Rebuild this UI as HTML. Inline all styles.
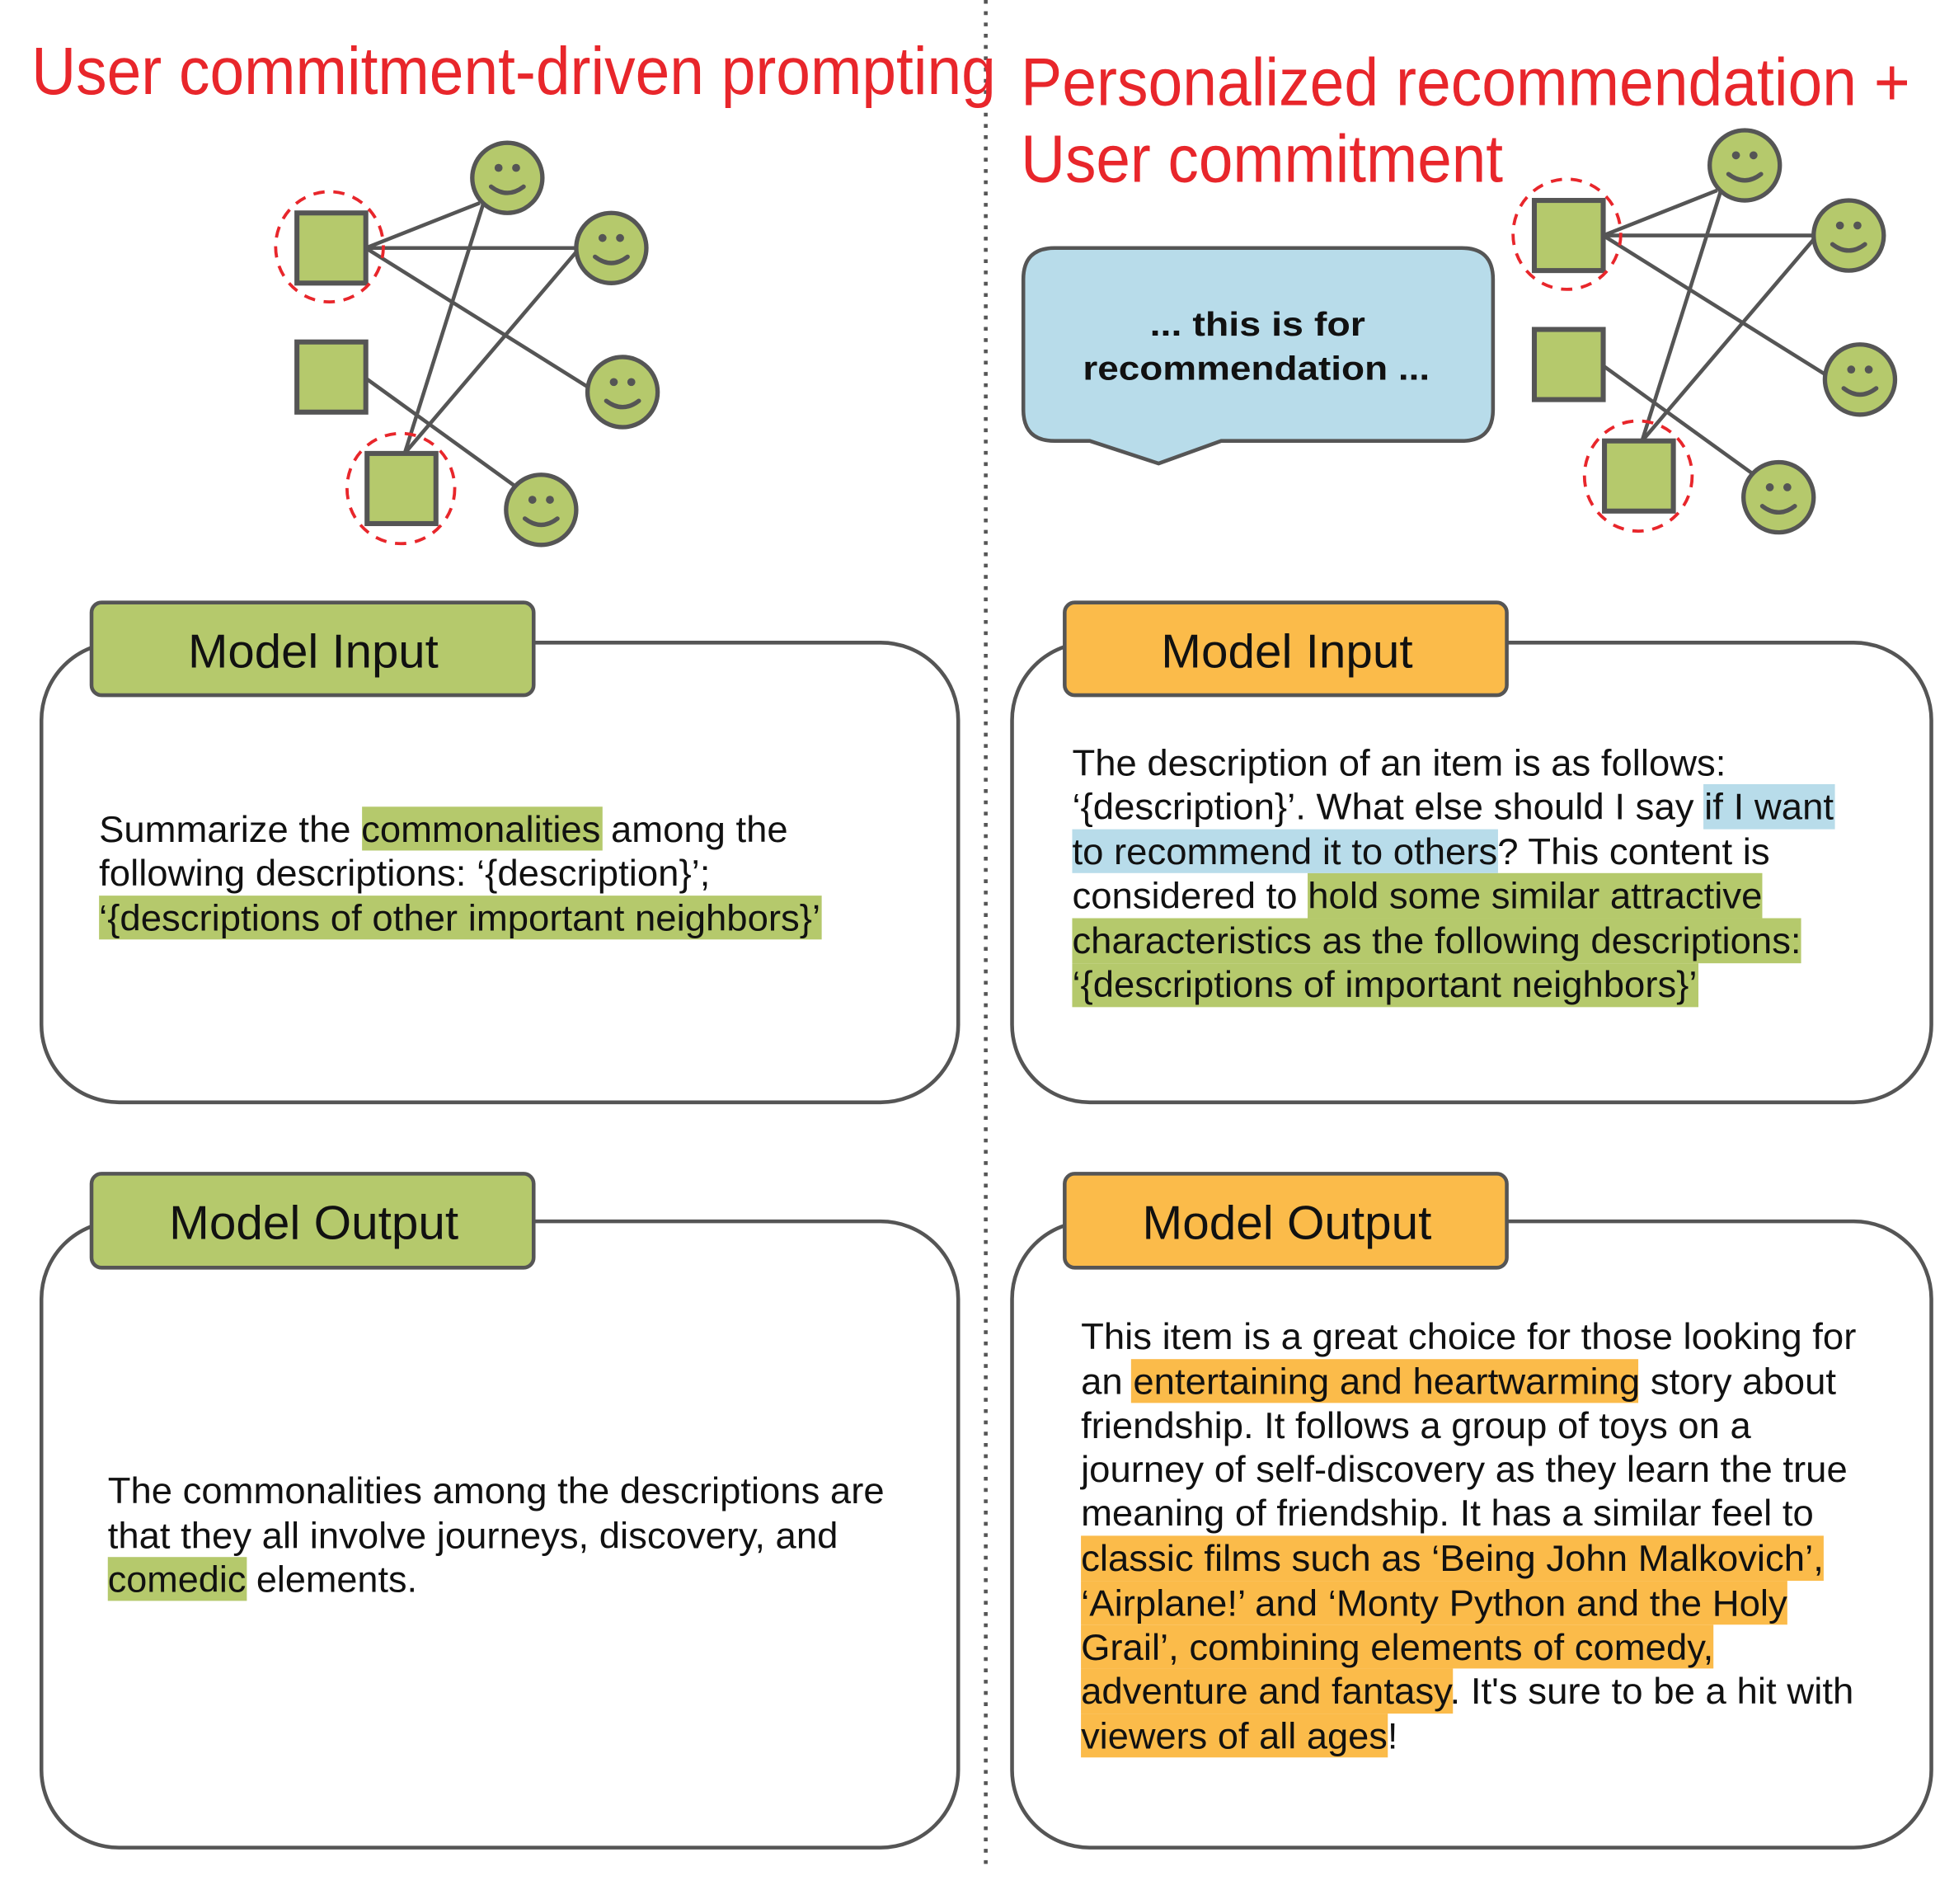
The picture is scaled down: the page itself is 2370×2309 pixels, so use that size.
<!DOCTYPE html>
<html><head><meta charset="utf-8"><style>
html,body{margin:0;padding:0;background:#fff;}
svg{display:block;}
text{font-family:"Liberation Sans",Arial,sans-serif;}
.t{font-size:29px;fill:#111;}
.ti{font-size:54px;fill:#e8262b;}
.tab{font-size:38px;fill:#111;}
</style></head><body>
<svg width="2370" height="2309" viewBox="0 0 1560 1520" xmlns="http://www.w3.org/2000/svg">
<defs>
<g id="smile">
<circle r="28" fill="#b5c96c" stroke="#555" stroke-width="3.5"/>
<circle cx="-7" cy="-8" r="3.2" fill="#555"/><circle cx="7" cy="-8" r="3.2" fill="#555"/>
<path d="M-13 7 Q0 17 13 7" fill="none" stroke="#555" stroke-width="3.5" stroke-linecap="round"/>
</g>
<g id="graph">
<g stroke="#555" stroke-width="3" fill="none">
<line x1="292" y1="198" x2="383" y2="162"/>
<line x1="292" y1="198" x2="460" y2="198"/>
<line x1="292" y1="198" x2="471" y2="310"/>
<line x1="292" y1="302" x2="411" y2="388"/>
<line x1="323" y1="362" x2="386" y2="162"/>
<line x1="323" y1="362" x2="461" y2="200"/>
</g>
<rect x="237" y="170" width="55" height="56" fill="#b5c96c" stroke="#555" stroke-width="4"/>
<rect x="237" y="273" width="55" height="56" fill="#b5c96c" stroke="#555" stroke-width="4"/>
<rect x="293" y="362" width="55" height="56" fill="#b5c96c" stroke="#555" stroke-width="4"/>
<ellipse cx="263" cy="197" rx="43" ry="44" fill="none" stroke="#e8262b" stroke-width="2.5" stroke-dasharray="9 7"/>
<ellipse cx="320" cy="390" rx="43" ry="44" fill="none" stroke="#e8262b" stroke-width="2.5" stroke-dasharray="9 7"/>
<use href="#smile" x="405" y="142"/>
<use href="#smile" x="488" y="198"/>
<use href="#smile" x="497" y="313"/>
<use href="#smile" x="432" y="407"/>
</g>
</defs>

<line x1="787" y1="0" x2="787" y2="1488" stroke="#555" stroke-width="3" stroke-dasharray="3 6"/>

<text class="ti" x="25" y="75" textLength="770" lengthAdjust="spacingAndGlyphs">User commitment-driven prompting</text>
<text class="ti" x="815" y="84" textLength="710" lengthAdjust="spacingAndGlyphs">Personalized recommendation +</text>
<text class="ti" x="815" y="145" textLength="385" lengthAdjust="spacingAndGlyphs">User commitment</text>

<use href="#graph"/>
<use href="#graph" x="988" y="-10"/>

<path d="M842 198 H1167 Q1192 198 1192 223 V327 Q1192 352 1167 352 H975 L925 370 L870 352 H842 Q817 352 817 327 V223 Q817 198 842 198 Z" fill="#b8dcea" stroke="#555" stroke-width="3"/>
<text x="1004" y="268" text-anchor="middle" style="font-size:27px;font-weight:bold" fill="#111" textLength="172" lengthAdjust="spacingAndGlyphs">... this is for</text>
<text x="1003" y="303" text-anchor="middle" style="font-size:27px;font-weight:bold" fill="#111" textLength="277" lengthAdjust="spacingAndGlyphs">recommendation ...</text>

<g fill="#fff" stroke="#555" stroke-width="3">
<rect x="33" y="513" width="732" height="367" rx="62"/>
<rect x="33" y="975" width="732" height="500" rx="62"/>
<rect x="808" y="513" width="734" height="367" rx="62"/>
<rect x="808" y="975" width="734" height="500" rx="62"/>
</g>
<g stroke="#555" stroke-width="3">
<rect x="73" y="481" width="353" height="74" rx="8" fill="#b5c96c"/>
<rect x="73" y="937" width="353" height="75" rx="8" fill="#b5c96c"/>
<rect x="850" y="481" width="353" height="74" rx="8" fill="#fbbb4a"/>
<rect x="850" y="937" width="353" height="75" rx="8" fill="#fbbb4a"/>
</g>
<text class="tab" x="150" y="533" textLength="200" lengthAdjust="spacingAndGlyphs">Model Input</text>
<text class="tab" x="135" y="989" textLength="231" lengthAdjust="spacingAndGlyphs">Model Output</text>
<text class="tab" x="927" y="533" textLength="201" lengthAdjust="spacingAndGlyphs">Model Input</text>
<text class="tab" x="912" y="989" textLength="231" lengthAdjust="spacingAndGlyphs">Model Output</text>

<g fill="#b5c96c">
<rect x="289" y="644" width="192" height="35"/>
<rect x="79" y="715" width="577" height="35"/>
<rect x="86" y="1243" width="111" height="35"/>
<rect x="1044" y="697" width="363" height="36"/>
<rect x="856" y="733" width="582" height="36"/>
<rect x="856" y="769" width="500" height="35"/>
</g>
<g fill="#b8dcea">
<rect x="1360" y="626" width="105" height="36"/>
<rect x="856" y="662" width="340" height="35"/>
</g>
<g fill="#fbbb4a">
<rect x="903" y="1085" width="405" height="35"/>
<rect x="863" y="1226" width="593" height="36"/>
<rect x="863" y="1262" width="564" height="35"/>
<rect x="863" y="1297" width="505" height="35"/>
<rect x="863" y="1332" width="297" height="36"/>
<rect x="863" y="1368" width="245" height="35"/>
</g>

<text class="t" x="79" y="672" textLength="550" lengthAdjust="spacingAndGlyphs">Summarize the commonalities among the</text>
<text class="t" x="79" y="707" textLength="488" lengthAdjust="spacingAndGlyphs">following descriptions: ‘{description}’;</text>
<text class="t" x="79" y="743" textLength="576" lengthAdjust="spacingAndGlyphs">‘{descriptions of other important neighbors}’</text>

<text class="t" x="86" y="1200" textLength="620" lengthAdjust="spacingAndGlyphs">The commonalities among the descriptions are</text>
<text class="t" x="86" y="1236" textLength="583" lengthAdjust="spacingAndGlyphs">that they all involve journeys, discovery, and</text>
<text class="t" x="86" y="1271" textLength="247" lengthAdjust="spacingAndGlyphs">comedic elements.</text>

<text class="t" x="856" y="619" textLength="522" lengthAdjust="spacingAndGlyphs">The description of an item is as follows:</text>
<text class="t" x="856" y="654" textLength="608" lengthAdjust="spacingAndGlyphs">‘{description}’. What else should I say if I want</text>
<text class="t" x="856" y="690" textLength="557" lengthAdjust="spacingAndGlyphs">to recommend it to others? This content is</text>
<text class="t" x="856" y="725" textLength="551" lengthAdjust="spacingAndGlyphs">considered to hold some similar attractive</text>
<text class="t" x="856" y="761" textLength="582" lengthAdjust="spacingAndGlyphs">characteristics as the following descriptions:</text>
<text class="t" x="856" y="796" textLength="499" lengthAdjust="spacingAndGlyphs">‘{descriptions of important neighbors}’</text>

<text class="t" x="863" y="1077" textLength="619" lengthAdjust="spacingAndGlyphs">This item is a great choice for those looking for</text>
<text class="t" x="863" y="1113" textLength="603" lengthAdjust="spacingAndGlyphs">an entertaining and heartwarming story about</text>
<text class="t" x="863" y="1148" textLength="535" lengthAdjust="spacingAndGlyphs">friendship. It follows a group of toys on a</text>
<text class="t" x="863" y="1183" textLength="612" lengthAdjust="spacingAndGlyphs">journey of self-discovery as they learn the true</text>
<text class="t" x="863" y="1218" textLength="585" lengthAdjust="spacingAndGlyphs">meaning of friendship. It has a similar feel to</text>
<text class="t" x="863" y="1254" textLength="593" lengthAdjust="spacingAndGlyphs">classic films such as ‘Being John Malkovich’,</text>
<text class="t" x="863" y="1290" textLength="564" lengthAdjust="spacingAndGlyphs">‘Airplane!’ and ‘Monty Python and the Holy</text>
<text class="t" x="863" y="1325" textLength="505" lengthAdjust="spacingAndGlyphs">Grail’, combining elements of comedy,</text>
<text class="t" x="863" y="1360" textLength="617" lengthAdjust="spacingAndGlyphs">adventure and fantasy. It's sure to be a hit with</text>
<text class="t" x="863" y="1396" textLength="253" lengthAdjust="spacingAndGlyphs">viewers of all ages!</text>
</svg>
</body></html>
